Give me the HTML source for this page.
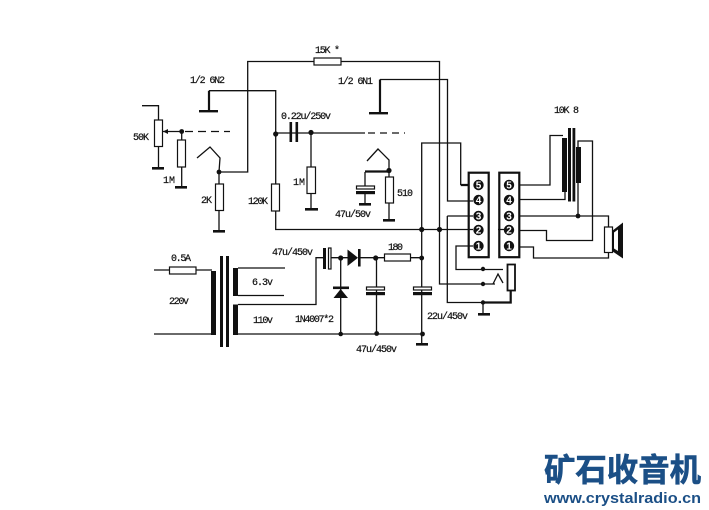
<!DOCTYPE html>
<html><head><meta charset="utf-8"><style>
html,body{margin:0;padding:0;background:#fff}
svg{display:block}
.l text{font-family:"Liberation Mono",monospace;font-size:10px;fill:#111;stroke:#111;stroke-width:.2}
.w{fill:none;stroke:#111;stroke-width:1.3}
.t{fill:none;stroke:#111;stroke-width:2.2}
.r{fill:#fff;stroke:#111;stroke-width:1.2}
.n{fill:#111}
.nt text{font-family:"Liberation Sans",sans-serif;font-size:10px;font-weight:bold;fill:#fff;text-anchor:middle}
</style></head><body>
<svg width="709" height="510" viewBox="0 0 709 510" xmlns="http://www.w3.org/2000/svg">
<!-- wires -->
<path class="w" d="M219 172H247.7V61.5H439.5V284H495"/>
<path class="w" d="M209 90.7H275.7V229.5H470"/>
<path class="w" d="M275.7 133H365"/>
<path class="w" d="M368 133H405" stroke-dasharray="7 5"/>
<path class="w" d="M311 133V209"/>
<path class="w" d="M142 105.7H158.5V168"/>
<path class="w" d="M163 131.5H182"/>
<path class="w" d="M185 131.5H230" stroke-dasharray="8 5"/>
<path class="w" d="M181.7 131.5V187"/>
<path class="w" d="M197 158L210 147L220 158L219 172V231"/>
<path class="w" d="M380 79.5H447.5V201H468"/>
<path class="w" d="M367 161L378 149L389 160V220"/>
<path class="w" d="M365 172V186M365 194V204"/>
<path class="w" d="M421.7 344V143H460.7V185"/>
<path class="w" d="M447.3 216H468M447.3 216V302.5H483"/>
<path class="w" d="M468 246H456V269.5H503"/>
<path class="w" d="M493 284L498 274L503 283"/>
<path class="w" d="M483 302V314"/>
<path class="w" d="M520 185H550V135.5H563M520 199.5H565V192"/>
<path class="w" d="M578 183V216M578 150V141H592.5V240.5H546.5V230.5H520"/>
<path class="w" d="M520 216H608.5V227M520 247H533.5V258H608.5V252"/>
<path class="w" d="M154 270H212M154 334H212"/>
<path class="w" d="M238 268H285M238 295.5H284"/>
<path class="w" d="M238 304.5H316V257.7H324M331 257.7H348M360 257.7H422"/>
<path class="w" d="M238 334H422"/>
<path class="w" d="M340.7 257.7V334M376.5 257.7V334"/>
<!-- thick wires -->
<path class="t" d="M209 90.7V111M380 79.5V113M365 171.5H389M460.7 185H468M483 302.5H510.7V291"/>
<rect class="n" x="199" y="110" width="19" height="2.4"/>
<rect class="n" x="369" y="112" width="19" height="2.4"/>
<!-- grounds -->
<g class="n">
<rect x="152" y="167" width="12" height="2.6"/>
<rect x="175" y="186" width="12" height="2.6"/>
<rect x="213" y="230" width="12" height="2.6"/>
<rect x="305" y="208" width="13" height="2.6"/>
<rect x="359" y="203" width="12" height="2.6"/>
<rect x="383" y="219" width="12" height="2.6"/>
<rect x="416" y="343" width="12" height="2.6"/>
<rect x="478" y="313" width="12" height="2.6"/>
</g>
<!-- resistors -->
<rect class="r" x="314" y="58" width="27" height="7"/>
<rect class="r" x="154.5" y="120" width="8" height="26.5"/>
<rect class="r" x="177.5" y="140" width="8" height="27"/>
<rect class="r" x="215.5" y="184" width="8" height="26.5"/>
<rect class="r" x="271.5" y="184" width="8" height="27"/>
<rect class="r" x="307" y="167" width="8.5" height="26.5"/>
<rect class="r" x="385.5" y="177" width="8" height="26"/>
<rect class="r" x="169.5" y="267" width="26.5" height="7"/>
<rect class="r" x="384.5" y="254" width="26" height="7"/>
<rect x="507.5" y="264.5" width="7.5" height="26" fill="#fff" stroke="#111" stroke-width="1.8"/>
<!-- pot arrow -->
<path class="n" d="M163 131.5L168 129V134Z"/>
<!-- caps -->
<g class="n">
<rect x="289.5" y="122" width="2.6" height="20"/>
<rect x="295.5" y="122" width="2.6" height="20"/>
<rect x="356" y="191" width="19" height="3.2"/>
<rect x="366" y="292" width="19" height="3.2"/>
<rect x="413" y="292" width="19" height="3.2"/>
<rect x="323" y="248" width="3" height="21"/>
</g>
<rect class="r" x="356.5" y="186" width="18" height="3"/>
<rect class="r" x="366.5" y="287" width="18" height="3"/>
<rect class="r" x="413.5" y="287" width="18" height="3"/>
<rect class="r" x="328.5" y="248" width="2.5" height="21"/>
<!-- diodes -->
<g class="n">
<path d="M347.5 249.5L358 257.7L347.5 266Z"/>
<rect x="358" y="249" width="2.6" height="17.5"/>
<path d="M340.7 289L333.5 298H348Z"/>
<rect x="333" y="286.5" width="16" height="2.6"/>
</g>
<!-- transformers -->
<g class="n">
<rect x="211" y="271" width="5" height="64"/>
<rect x="220" y="256" width="3" height="91"/>
<rect x="226" y="256" width="3" height="91"/>
<rect x="233" y="268" width="5" height="28"/>
<rect x="233" y="304.5" width="5" height="30.5"/>
<rect x="562" y="138" width="5" height="54"/>
<rect x="568" y="128" width="3" height="73.5"/>
<rect x="572.5" y="128" width="2.8" height="73.5"/>
<rect x="576" y="147" width="5" height="36"/>
</g>
<!-- sockets -->
<rect x="468.7" y="172.7" width="20" height="84.5" fill="#fff" stroke="#111" stroke-width="2.2"/>
<rect x="499.3" y="172.7" width="20" height="84.5" fill="#fff" stroke="#111" stroke-width="2.2"/>
<path class="w" d="M468 229.5H473M504 229.5H498M468 246H473M468 216H473M468 201H473"/>
<g class="n">
<circle cx="478.5" cy="185" r="5.2"/><circle cx="478.5" cy="200" r="5.2"/><circle cx="478.5" cy="216" r="5.2"/><circle cx="478.5" cy="230" r="5.2"/><circle cx="478.5" cy="246" r="5.2"/>
<circle cx="509" cy="185" r="5.2"/><circle cx="509" cy="200" r="5.2"/><circle cx="509" cy="216" r="5.2"/><circle cx="509" cy="230" r="5.2"/><circle cx="509" cy="246" r="5.2"/>
</g>
<g class="nt">
<text x="478.5" y="188.5">5</text><text x="478.5" y="203.5">4</text><text x="478.5" y="219.5">3</text><text x="478.5" y="233.5">2</text><text x="478.5" y="249.5">1</text>
<text x="509" y="188.5">5</text><text x="509" y="203.5">4</text><text x="509" y="219.5">3</text><text x="509" y="233.5">2</text><text x="509" y="249.5">1</text>
</g>
<!-- speaker -->
<path d="M612 231L623 222.5V258.5L612 251Z" fill="#111"/>
<path d="M614 232.5L618 229.5V251L614 248.5Z" fill="#fff"/>
<rect class="r" x="604.5" y="227" width="8" height="25.5"/>
<!-- junctions -->
<g class="n">
<circle cx="181.7" cy="131.5" r="2.4"/><circle cx="219" cy="172" r="2.4"/><circle cx="275.7" cy="134" r="2.6"/><circle cx="311" cy="132.5" r="2.6"/>
<circle cx="389" cy="170.5" r="2.6"/><circle cx="421.7" cy="229.5" r="2.6"/><circle cx="439.5" cy="229.5" r="2.6"/><circle cx="421.7" cy="258" r="2.4"/>
<circle cx="578" cy="216" r="2.4"/><circle cx="483" cy="269" r="2.2"/><circle cx="483" cy="284" r="2.2"/><circle cx="483" cy="302.5" r="2.2"/>
<circle cx="340.7" cy="258" r="2.6"/><circle cx="375.7" cy="258" r="2.6"/><circle cx="340.7" cy="334" r="2.3"/><circle cx="376.7" cy="333.5" r="2.4"/><circle cx="422.5" cy="334" r="2.4"/>
</g>
<!-- labels -->
<g class="l">
<text x="315" y="53" textLength="25">15K *</text>
<text x="190" y="83" textLength="35">1/2 6N2</text>
<text x="338" y="84" textLength="35">1/2 6N1</text>
<text x="281" y="119" textLength="50">0.22u/250v</text>
<text x="554" y="113" textLength="25">10K 8</text>
<text x="133" y="140" textLength="16">50K</text>
<text x="163" y="183" textLength="12">1 M</text>
<text x="293" y="185" textLength="12">1 M</text>
<text x="201" y="203" textLength="11">2K</text>
<text x="248" y="204" textLength="20">120K</text>
<text x="335" y="217" textLength="36">47u/50v</text>
<text x="397" y="196" textLength="16">510</text>
<text x="171" y="261" textLength="20">0.5A</text>
<text x="169" y="304" textLength="20">220v</text>
<text x="252" y="285" textLength="21">6.3v</text>
<text x="253" y="323" textLength="20">110v</text>
<text x="272" y="255" textLength="41">47u/450v</text>
<text x="295" y="322" textLength="39">1N4007*2</text>
<text x="388" y="250" textLength="15">180</text>
<text x="356" y="352" textLength="41">47u/450v</text>
<text x="427" y="319" textLength="41">22u/450v</text>
</g>
<!-- logo -->
<text x="544" y="481" textLength="157" lengthAdjust="spacingAndGlyphs" style="font-family:'Noto Sans CJK SC','WenQuanYi Zen Hei',sans-serif;font-size:32px;font-weight:700" fill="#1b4f86" stroke="#1b4f86" stroke-width=".6">矿石收音机</text>
<text x="544" y="503" textLength="157" lengthAdjust="spacingAndGlyphs" style="font-family:'Liberation Sans',sans-serif;font-size:15px;font-weight:700" fill="#1b4f86">www.crystalradio.cn</text>
</svg>
</body></html>
